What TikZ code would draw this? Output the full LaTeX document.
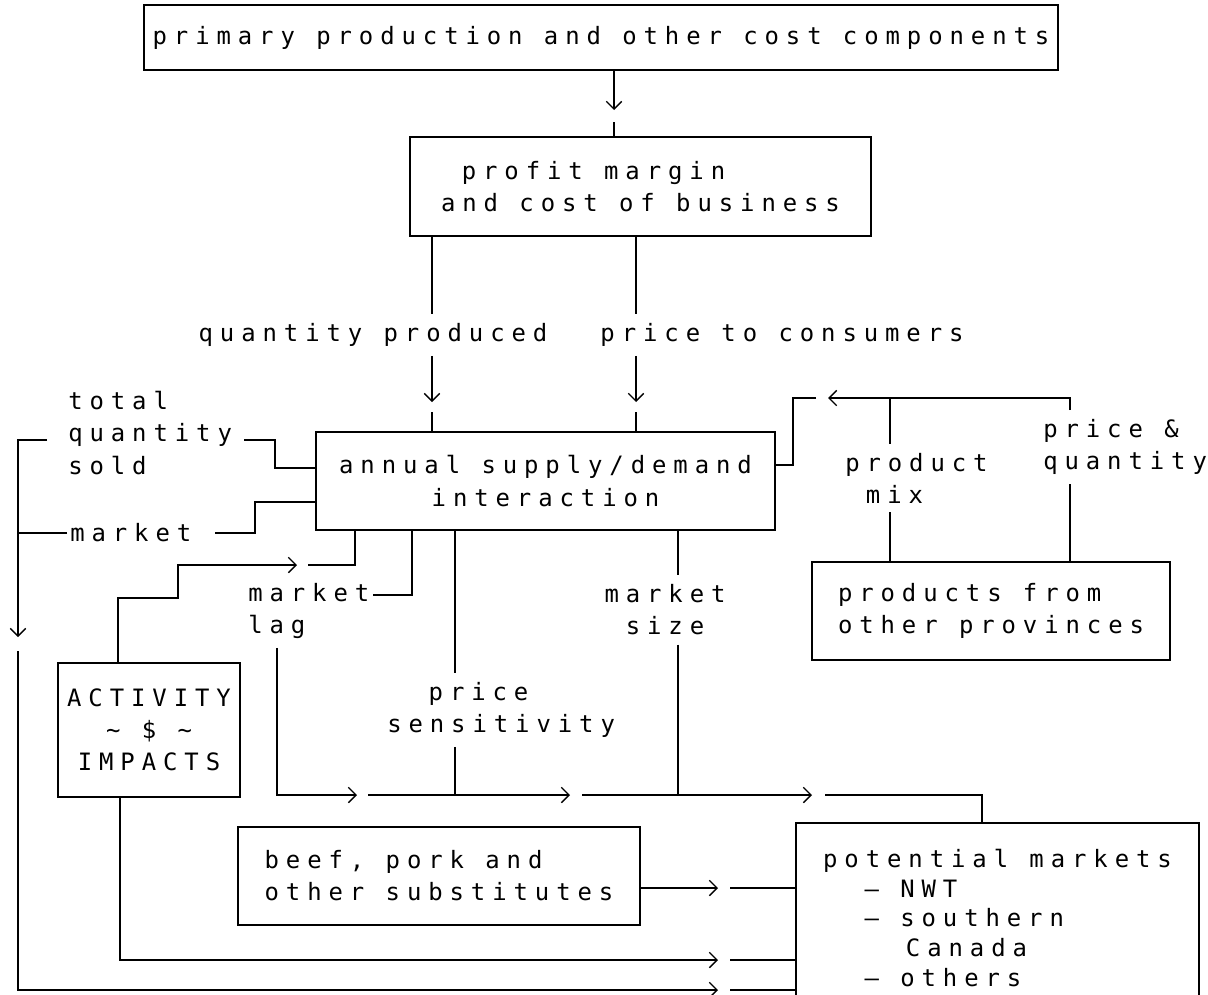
\documentclass[tikz,border=0pt]{standalone}
\usepackage{fontspec}
\newfontfamily\dotfont[LetterSpace=29]{DejaVu Sans Mono}
\usetikzlibrary{positioning, arrows.meta}
\newdimen\pxu \pxu=0.025cm
\newcommand\chsp{\hspace*{20.7\pxu}}
\newcommand\dotsize{\dotfont\fontsize{17pt}{22.8pt}\selectfont}
\tikzset{
	line/.style={line width=1pt},
	tip/.style={line width=1pt, -{Straight Barb[length=5.5pt, width=11pt, line width=1pt]}}
}

\begin{document}
\begin{tikzpicture}[x=0.025cm, y=-0.025cm,
		box/.style={draw, line width=1pt, inner sep=0pt, font=\dotsize},
		lbl/.style={inner xsep=3\pxu, inner ysep=9\pxu, font=\dotsize}
		]
		\useasboundingbox (0,0) rectangle (1208,994);
		\fill[white] (0,0) rectangle (1208,994);
		\clip (0,0) rectangle (1208,994);
		
		% boxes
		\node[box, minimum width=914\pxu, minimum height=65\pxu] (prim) at (601,37.5) {primary production and other cost components};
		\node[box, minimum width=461\pxu, minimum height=99\pxu, align=left] (profit) at (640.5,186.5) {\chsp profit margin\\and cost of business};
		\node[box, minimum width=459\pxu, minimum height=98\pxu, align=center] (annual) at (545.5,481) {annual supply/demand\\interaction};
		\node[box, minimum width=358\pxu, minimum height=98\pxu, align=left] (products) at (991,611) {products from\\other provinces};
		\node[box, minimum width=182\pxu, minimum height=134\pxu, align=center] (activity) at (149,730) {ACTIVITY\\\textasciitilde{} \$ \textasciitilde\\IMPACTS};
		\node[box, minimum width=402\pxu, minimum height=98\pxu, align=left] (beef) at (439,876) {beef, pork and\\other substitutes};
		\node[box, minimum width=403\pxu, minimum height=190\pxu, align=left, font=\dotfont\fontsize{17pt}{21.3pt}\selectfont] (mkts) at (997.5,918) {potential markets\\\chsp\chsp– NWT\\\chsp\chsp– southern\\\chsp\chsp\chsp\chsp Canada\\\chsp\chsp– others};
		
		% labels on the connectors
		\node[lbl] (qprod) at (373,335) {quantity produced};
		\node[lbl] (pcons) at (782,335) {price to consumers};
		\node[lbl, anchor=west, align=left] (tqs) at (65,433) {total\\quantity\\sold};
		\node[lbl, anchor=west] (mkt) at (67,533) {market\chsp};
		\node[lbl, anchor=west, align=left] (mlag) at (245,611) {market\\lag};
		\node[lbl, anchor=west, align=left] (psens) at (384,710) {\chsp\chsp price\\sensitivity};
		\node[lbl, align=center] (msize) at (665,610) {market\\size};
		\node[lbl, anchor=west, align=left] (pmix) at (842,478) {product\\\chsp mix};
		\node[lbl, anchor=west, align=left] (pq) at (1040,447) {price \&\\quantity};
		
		% arrow points and bends
		\coordinate (kA) at (614,110);
		\coordinate (kB) at (432,402);
		\coordinate (kC) at (636,402);
		\coordinate (tq1) at (275,468);
		\coordinate (tq2) at (275,440);
		\coordinate (kRail) at (18,637);
		\coordinate (kBot) at (718,990);
		\coordinate (mk1) at (255,502);
		\coordinate (ac1) at (118,598);
		\coordinate (ac2) at (178,565);
		\coordinate (kAct2) at (297,565);
		\coordinate (ac3) at (355,565);
		\coordinate (lg1) at (412,595);
		\coordinate (lg2) at (277,795);
		\coordinate (kLag1) at (357,795);
		\coordinate (kLag2) at (570,795);
		\coordinate (kLag3) at (812,795);
		\coordinate (lg3) at (982,795);
		\coordinate (ps) at (455,795);
		\coordinate (ms) at (678,795);
		\coordinate (pm) at (890,398);
		\coordinate (pqc) at (1070,398);
		\coordinate (kProd) at (828,398);
		\coordinate (rb) at (793,465);
		\coordinate (ab) at (120,960);
		\coordinate (kAct) at (718,960);
		\coordinate (kBeef) at (718,888);
		
		% top part
		\draw[tip] (prim.south -| kA) -- (kA);
		\draw[line] (kA) ++(0,12) -- (profit.north -| kA);
		\draw[line] (profit.south -| kB) -- (qprod.north -| kB);
		\draw[tip] (qprod.south -| kB) -- (kB);
		\draw[line] (kB) ++(0,10) -- (annual.north -| kB);
		\draw[line] (profit.south -| kC) -- (pcons.north -| kC);
		\draw[tip] (pcons.south -| kC) -- (kC);
		\draw[line] (kC) ++(0,10) -- (annual.north -| kC);
		
		% left side
		\draw[line, shorten >=9\pxu] (annual.west |- tq1) -- (tq1) -- (tq2) -- (tqs.east |- tq2);
		\draw[tip, shorten <=18\pxu] (tqs.west |- tq2) -| (kRail);
		\draw[tip] (kRail) ++(0,14) |- (kBot);
		\draw[line] (kBot) ++(12,0) -- (mkts.west |- kBot);
		\draw[line] (annual.west |- mk1) -- (mk1) |- (mkt.east);
		\draw[line] (mkt.west) -- (mkt.west -| kRail);
		\draw[tip] (activity.north -| ac1) -- (ac1) -| (ac2) -- (kAct2);
		\draw[line] (kAct2) ++(11,0) -| (annual.south -| ac3);
		\draw[tip] (activity.south -| ab) |- (kAct);
		\draw[line] (kAct) ++(12,0) -- (mkts.west |- kAct);
		
		% lower middle
		\draw[line] (annual.south -| lg1) -- (lg1) -- (mlag.east |- lg1);
		\draw[tip] (mlag.south -| lg2) |- (kLag1);
		\draw[tip] (kLag1) ++(11,0) -- (kLag2);
		\draw[tip] (kLag2) ++(12,0) -- (kLag3);
		\draw[line] (kLag3) ++(13,0) -| (mkts.north -| lg3);
		\draw[line] (annual.south -| ps) -- (psens.north -| ps);
		\draw[line] (psens.south -| ps) -- (ps);
		\draw[line] (annual.south -| ms) -- (msize.north -| ms);
		\draw[line] (msize.south -| ms) -- (ms);
		\draw[tip] (beef.east |- kBeef) -- (kBeef);
		\draw[line] (kBeef) ++(12,0) -- (mkts.west |- kBeef);
		
		% right side
		\draw[line] (products.north -| pm) -- (pmix.south -| pm);
		\draw[line] (pmix.north -| pm) -- (pm);
		\draw[line] (products.north -| pqc) -- (pq.south -| pqc);
		\draw[tip] (pq.north -| pqc) -- (pqc) -- (kProd);
		\draw[line] (kProd) ++(-12,0) -| (rb) -- (annual.east |- rb);
		
	\end{tikzpicture}
\end{document}
